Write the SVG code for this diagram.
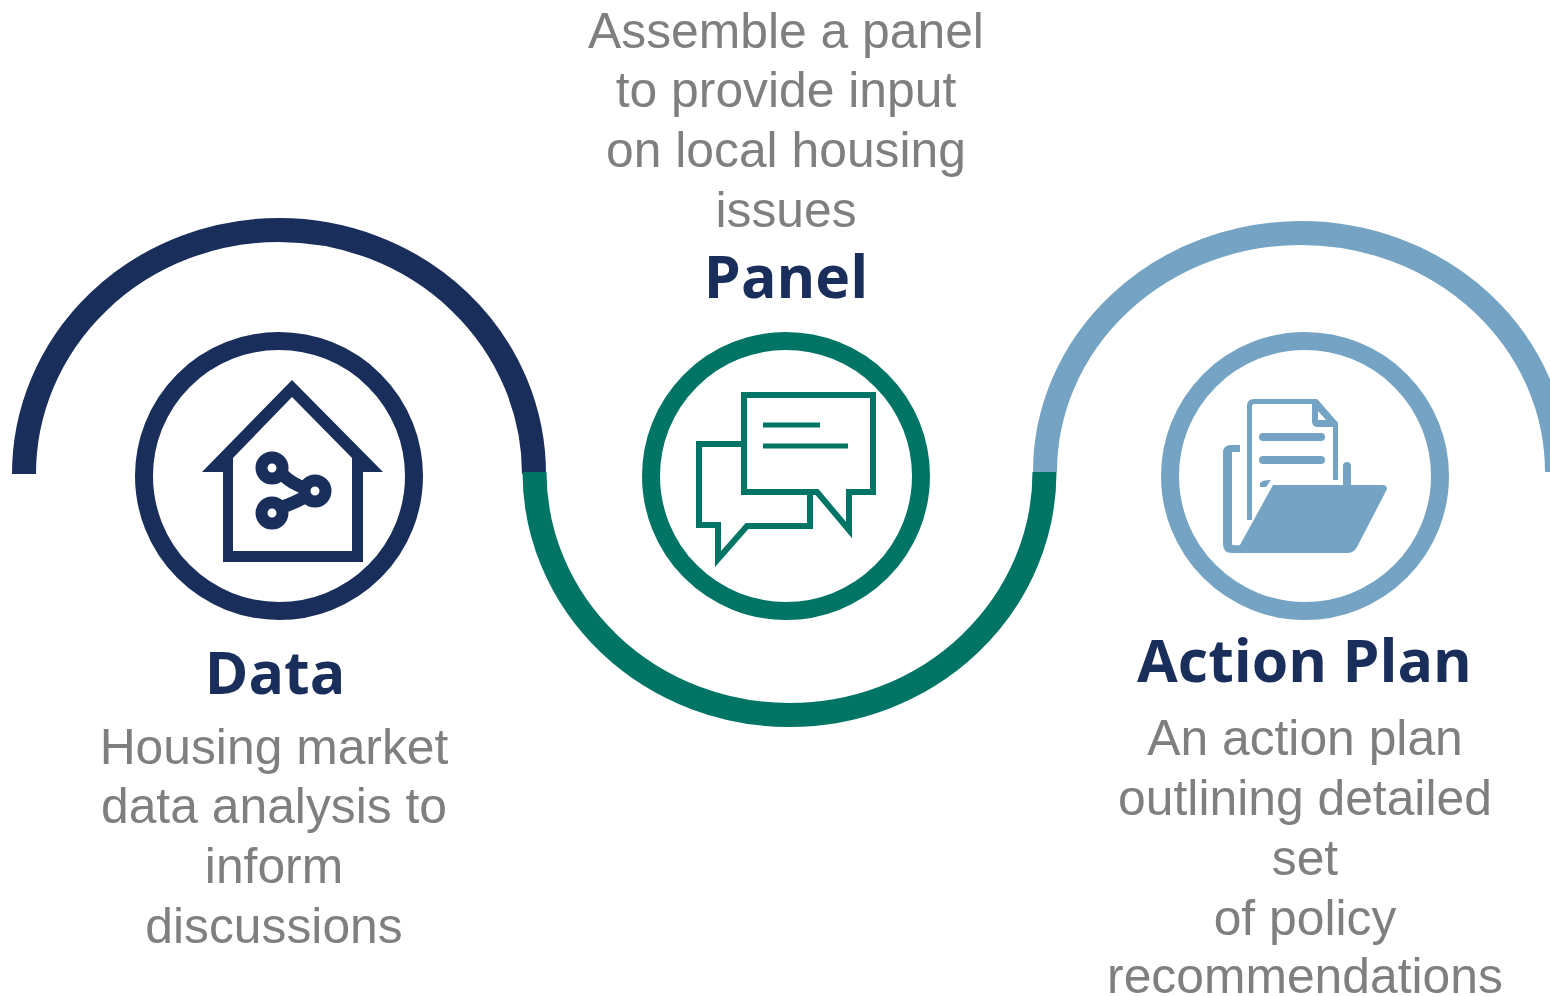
<svg xmlns="http://www.w3.org/2000/svg" width="1550" height="996" viewBox="0 0 1550 996">
<style>
.body{font-family:"Liberation Sans",Arial,sans-serif;font-size:49.800px;fill:#7f7f7f;text-anchor:middle}
.title{font-family:"Open Sans","Noto Sans",sans-serif;font-weight:700;font-size:59px;fill:#1a2e5c;text-anchor:middle}
.ring{fill:none;stroke-width:18}
.arc{fill:none;stroke-width:24}
.navy{stroke:#1a2e5c}.green{stroke:#007566}.blue{stroke:#75a3c3}
</style>
<rect width="1550" height="996" fill="#fff"/>
<g id="connectors">
<path class="arc navy" d="M24 474A255 244 0 0 1 534 474"/>
<path class="arc blue" d="M1045 472A256 239 0 0 1 1557 472"/>
<path class="arc green" d="M534.500 472A255 243 0 0 0 1044.500 472"/>
</g>
<g id="node-data">
<circle class="ring navy" cx="279" cy="476" r="135"/>
<path fill="#1a2e5c" fill-rule="evenodd" d="M292 380L383 472H363V562H223V472H202ZM292 397L233 458V551H352V458Z"/>
<g fill="none" stroke="#1a2e5c" stroke-width="12"><circle cx="272" cy="468" r="10.500"/><circle cx="315" cy="491" r="10.500"/><circle cx="272" cy="513" r="10.500"/><path stroke-width="13" d="M282 474Q292 484 305 488M282 507Q292 504 305 497"/></g>
<text class="title" x="275" y="694">Data</text>
<text class="body"><tspan x="274" y="764">Housing market</tspan><tspan x="274" y="823">data analysis to</tspan><tspan x="274" y="883">inform</tspan><tspan x="274" y="943">discussions</tspan></text>
</g>
<g id="node-panel">
<circle class="ring green" cx="786" cy="476" r="135"/>
<path fill="none" stroke="#007566" stroke-width="6" d="M744 395H873V492H849V530L817 492H744Z"/>
<path fill="none" stroke="#007566" stroke-width="6" d="M741 444H699V525H718V559L747 526H810V495"/>
<path fill="none" stroke="#007566" stroke-width="5" d="M763 425H820M763 446H848"/>
<text class="title" x="786" y="298">Panel</text>
<text class="body"><tspan x="786" y="48">Assemble a panel</tspan><tspan x="786" y="107">to provide input</tspan><tspan x="786" y="167">on local housing</tspan><tspan x="786" y="227">issues</tspan></text>
</g>
<g id="node-action-plan">
<circle class="ring blue" cx="1305" cy="476" r="135"/>
<path fill="#75a3c3" d="M1273 485H1382Q1389 485 1386 491L1357 547Q1354 553 1347 553H1232Q1223 553 1223 544V453Q1223 445 1231 445H1240V452H1232V544Q1232 546 1240 545L1273 485Z"/>
<path fill="none" stroke="#75a3c3" stroke-width="5" d="M1249.500 520V406Q1249.500 401.500 1254 401.500H1316L1335.500 424V480"/>
<path fill="#75a3c3" fill-rule="evenodd" d="M1312 400H1317L1338 423V427H1318Q1312 427 1312 421ZM1318 411V420H1326Z"/>
<path fill="none" stroke="#75a3c3" stroke-width="8" stroke-linecap="round" d="M1263 437H1321M1263 460H1321M1347 466V485"/>
<path fill="#75a3c3" d="M1260 487V483Q1262 480 1271 480L1266 487Z"/>
<text class="title" x="1304.500" y="682">Action Plan</text>
<text class="body"><tspan x="1305" y="755">An action plan</tspan><tspan x="1305" y="815">outlining detailed</tspan><tspan x="1305" y="875">set</tspan><tspan x="1305" y="935">of policy</tspan><tspan x="1305" y="993">recommendations</tspan></text>
</g>
</svg>
